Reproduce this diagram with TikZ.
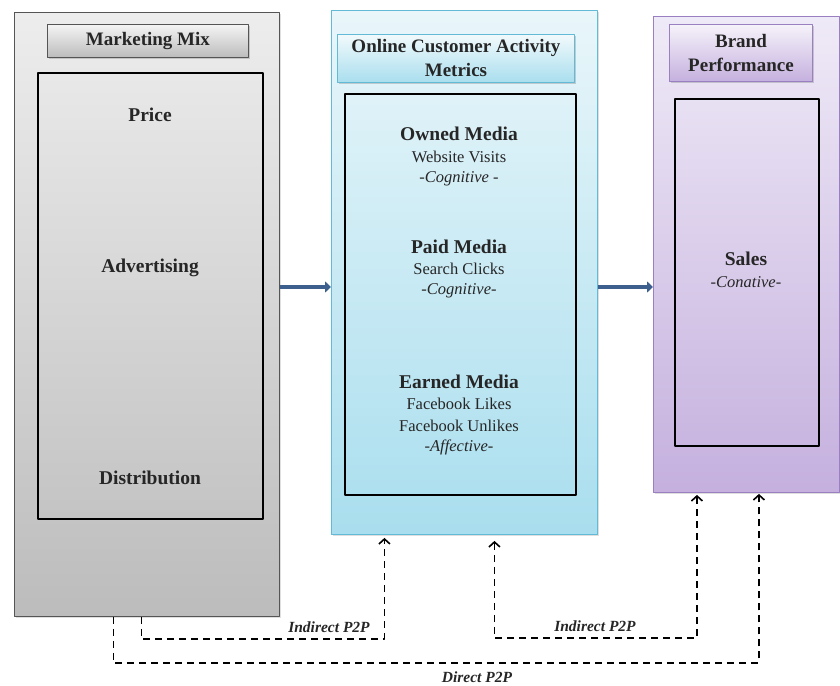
\documentclass[tikz,border=0pt]{standalone}
\usepackage{fontspec}
\setmainfont{Liberation Serif}
\usetikzlibrary{arrows.meta,shadows}

% colours of the three columns
\definecolor{mixtop}{HTML}{EDEDED}   \definecolor{mixbot}{HTML}{BCBCBC}   \definecolor{mixline}{HTML}{555555}
\definecolor{webtop}{HTML}{E9F6FA}   \definecolor{webbot}{HTML}{A9DEEE}   \definecolor{webline}{HTML}{62BAD6}
\definecolor{brdtop}{HTML}{EFEAF7}   \definecolor{brdbot}{HTML}{C5B0DE}   \definecolor{brdline}{HTML}{9A80C0}
\definecolor{flowblue}{HTML}{3D5F8E}
\definecolor{ink}{HTML}{262626}

\begin{document}
\begin{tikzpicture}[x=1pt,y=-1pt, line join=round, font=\fontsize{16.5}{22}\selectfont, text=ink,
    >={Straight Barb[length=5pt,width=11pt,line width=1.6pt]},
    box/.style={rectangle, inner sep=0pt, anchor=north west},
    panel/.style={box, draw=#1line, line width=0.9pt, top color=#1top, bottom color=#1bot,
        drop shadow={opacity=0.25, shadow xshift=1.5pt, shadow yshift=-1.5pt}},
    titlebox/.style={box, draw=#1line, line width=0.9pt, top color=#1top!60, bottom color=#1bot,
        align=center, font=\fontsize{19}{24}\selectfont\bfseries,
        drop shadow={opacity=0.35, shadow xshift=1.5pt, shadow yshift=-2pt}},
    inner/.style={box, draw=black, line width=1.8pt},
    head/.style={font=\fontsize{19.5}{24}\selectfont\bfseries},
    tag/.style={font=\fontsize{16.5}{22}\selectfont\itshape},
    ptwop/.style={font=\fontsize{15.5}{18}\selectfont\bfseries\itshape},
    flow/.style={draw=flowblue, line width=4.5pt, -{Triangle[length=6pt,width=11pt]}},
    link/.style={draw=black, line width=1.8pt, dash pattern=on 7pt off 5pt}]

\useasboundingbox (0,0) rectangle (840,685);

% columns
\node[panel=mix, minimum width=265pt, minimum height=604pt] (mix) at (14,12) {};
\node[panel=web, minimum width=266pt, minimum height=524pt] (web) at (331,10) {};
\node[panel=brd, minimum width=186pt, minimum height=476pt] (brd) at (653,16) {};

% headings
\node[titlebox=mix, minimum width=201pt, minimum height=33pt] (mixtitle) at (47,24) {Marketing Mix};
\node[titlebox=web, minimum width=237pt, minimum height=48pt] (webtitle) at (337,34) {Online Customer Activity\\Metrics};
\node[titlebox=brd, minimum width=143pt, minimum height=57pt] (brdtitle) at (669,24) {Brand\\Performance};

% inner frames
\node[inner, minimum width=225pt, minimum height=446pt] (mixin) at (37,72) {};
\node[inner, minimum width=231pt, minimum height=401pt] (webin) at (344,93) {};
\node[inner, minimum width=144pt, minimum height=347pt] (brdin) at (674,98) {};

% marketing mix
\node[head] (price) at (150,115) {Price};
\node[head] (adv) at (150,268) {Advertising};
\node[head] (dist) at (150,478) {Distribution};

% online activity
\node[head] (owned) at (459,134) {Owned Media};
\node (visits) at (459,157) {Website Visits};
\node[tag] (cog1) at (459,179) {-Cognitive -};
\node[head] (paid) at (459,247) {Paid Media};
\node (clicks) at (459,269) {Search Clicks};
\node[tag] (cog2) at (459,291) {-Cognitive-};
\node[head] (earned) at (459,382) {Earned Media};
\node (likes) at (459,404) {Facebook Likes};
\node (unlikes) at (459,426) {Facebook Unlikes};
\node[tag] (aff) at (459,447) {-Affective-};

% brand performance
\node[head] (sales) at (746,259) {Sales};
\node[tag] (con) at (746,282) {-Conative-};

% main flow
\draw[flow] (mix.east |- 0,287) -- (web.west |- 0,287);
\draw[flow] (web.east |- 0,287) -- (brd.west |- 0,287);

% P2P links
\draw[link, ->] ([xshift=-5.5pt]mix.south) -- ++(0,22) -| ([xshift=-80pt,yshift=-3pt]web.south);
\draw[link, <->] ([xshift=30pt,yshift=-6pt]web.south) -- ++(0,97) -| ([xshift=-49.5pt,yshift=-2pt]brd.south);
\draw[link, ->] ([xshift=-33.5pt]mix.south) -- ++(0,46) -| ([xshift=12.5pt,yshift=-1pt]brd.south);

\node[ptwop] (ind1) at (329,627) {Indirect P2P};
\node[ptwop] (ind2) at (595,626) {Indirect P2P};
\node[ptwop] (dir) at (477,677) {Direct P2P};

\end{tikzpicture}
\end{document}
